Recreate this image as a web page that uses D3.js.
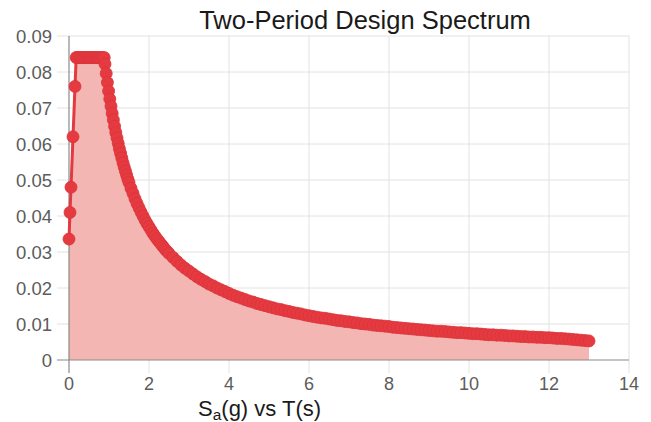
<!DOCTYPE html>
<html><head><meta charset="utf-8">
<script src="https://cdn.jsdelivr.net/npm/d3@7/dist/d3.min.js"></script>
<style>html,body{margin:0;padding:0;background:#fff;}svg{display:block;}</style>
</head><body>
<svg id="c" width="651" height="422"></svg>
<script>
const title = "Two-Period Design Spectrum";
const xTicks = [0, 2, 4, 6, 8, 10, 12, 14];
const yTicks = [0, 0.01, 0.02, 0.03, 0.04, 0.05, 0.06, 0.07, 0.08, 0.09];
const periodT = [0,0.025,0.05,0.1,0.15,0.18,
 0.2,0.24,0.28,0.32,0.36,0.4,0.44,0.48,0.52,0.56,0.6,0.64,0.68,0.72,0.76,0.8,0.84,0.88,
 0.9,0.93,0.96,0.99,1.02,1.05,1.08,1.11,1.14,1.17,1.2,1.23,1.26,1.29,1.32,1.35,1.38,1.41,1.44,1.47,1.5,
 1.55,1.6,1.65,1.7,1.75,1.8,1.85,1.9,1.95,2,2.05,2.1,2.15,2.2,2.25,2.3,2.35,2.4,2.45,2.5,
 2.6,2.7,2.8,2.9,3,3.1,3.2,3.3,3.4,3.5,3.6,3.7,3.8,3.9,4,
 4.1,4.2,4.3,4.4,4.5,4.6,4.7,4.8,4.9,5,5.1,5.2,5.3,5.4,5.5,5.6,5.7,5.8,5.9,6,
 6.1,6.2,6.3,6.4,6.5,6.6,6.7,6.8,6.9,7,7.1,7.2,7.3,7.4,7.5,7.6,7.7,7.8,7.9,8,
 8.1,8.2,8.3,8.4,8.5,8.6,8.7,8.8,8.9,9,9.1,9.2,9.3,9.4,9.5,9.6,9.7,9.8,9.9,10,
 10.1,10.2,10.3,10.4,10.5,10.6,10.7,10.8,10.9,11,11.1,11.2,11.3,11.4,11.5,11.6,11.7,11.8,11.9,12,
 12.1,12.2,12.3,12.4,12.5,12.6,12.7,12.8,12.9,13];
const spectralSa = [0.0336,0.041,0.048,0.062,0.076,0.084,
 0.084,0.084,0.084,0.084,0.084,0.084,0.084,0.084,0.084,0.084,0.084,0.084,0.084,0.084,0.084,0.084,0.084,0.084,
 0.0822,0.0796,0.0771,0.0747,0.0725,0.0705,0.0685,0.0667,0.0649,0.0632,0.0617,0.0602,0.0587,0.0574,0.0561,0.0548,0.0536,0.0525,0.0514,0.0503,0.0493,
 0.0477,0.0463,0.0448,0.0435,0.0423,0.0411,0.0400,0.0389,0.0379,0.0370,0.0361,0.0352,0.0344,0.0336,0.0329,0.0322,0.0315,0.0308,0.0302,0.0296,
 0.0285,0.0274,0.0264,0.0255,0.0247,0.0239,0.0231,0.0224,0.0218,0.0211,0.0206,0.0200,0.0195,0.0190,0.0185,
 0.0180,0.0176,0.0172,0.0168,0.0164,0.0161,0.0157,0.0154,0.0151,0.0148,0.0145,0.0142,0.0140,0.0137,0.0135,0.0132,0.0130,0.0128,0.0125,0.0123,
 0.0121,0.0119,0.0117,0.0116,0.0114,0.0112,0.0110,0.0109,0.0107,0.0106,0.0104,0.0103,0.0101,0.0100,0.0099,0.0097,0.0096,0.0095,0.0094,0.0093,
 0.0091,0.0090,0.0089,0.0088,0.0087,0.0086,0.0085,0.0084,0.0083,0.0082,0.0081,0.0080,0.0080,0.0079,0.0078,0.0077,0.0076,0.0076,0.0075,0.0074,
 0.0073,0.0073,0.0072,0.0071,0.0070,0.0070,0.0069,0.0069,0.0068,0.0067,0.0067,0.0066,0.0065,0.0065,0.0064,0.0064,0.0063,0.0063,0.0062,0.0062,
 0.0061,0.0060,0.0060,0.0059,0.0058,0.0057,0.0056,0.0055,0.0054,0.0053];

const data = periodT.map((t, i) => ({t, s: spectralSa[i]}));
const svg = d3.select("#c");
const m = {left: 69, right: 22, top: 36, bottom: 62};
const W = 651, H = 422;
const x = d3.scaleLinear().domain([0, 14]).range([m.left, W - m.right]);
const y = d3.scaleLinear().domain([0, 0.09]).range([H - m.bottom, m.top]);
const font = "'Liberation Sans', Arial, sans-serif";

// grid
svg.append("g").selectAll("line").data(yTicks.slice(1)).join("line")
  .attr("x1", m.left - 12).attr("x2", x(14)).attr("y1", d => y(d)).attr("y2", d => y(d))
  .attr("stroke", "#e2e2e2").attr("stroke-width", 1);
svg.append("g").selectAll("line").data(xTicks.slice(1)).join("line")
  .attr("x1", d => x(d)).attr("x2", d => x(d)).attr("y1", y(0.09)).attr("y2", y(0) + 13)
  .attr("stroke", "#e2e2e2").attr("stroke-width", 1);

// area
svg.append("path").datum(data)
  .attr("d", d3.area().x(d => x(d.t)).y0(y(0)).y1(d => y(d.s)))
  .attr("fill", "#f3b6b3");

// axes lines
svg.append("line").attr("x1", m.left - 12).attr("x2", x(14)).attr("y1", y(0)).attr("y2", y(0))
  .attr("stroke", "#8a8a8a").attr("stroke-width", 1.2);
svg.append("line").attr("x1", m.left).attr("x2", m.left).attr("y1", y(0.09)).attr("y2", y(0) + 13)
  .attr("stroke", "#8a8a8a").attr("stroke-width", 1.2);

// line + markers
svg.append("path").datum(data)
  .attr("d", d3.line().x(d => x(d.t)).y(d => y(d.s)))
  .attr("fill", "none").attr("stroke", "#e23a40").attr("stroke-width", 3);
svg.append("g").selectAll("circle").data(data).join("circle")
  .attr("cx", d => x(d.t)).attr("cy", d => y(d.s)).attr("r", 6)
  .attr("fill", "#e43a40").attr("stroke", "#dc343b").attr("stroke-width", 0.8);

// tick labels
svg.append("g").selectAll("text").data(yTicks).join("text")
  .attr("x", 52).attr("y", d => y(d)).attr("dy", "0.36em").attr("text-anchor", "end")
  .attr("font-family", font).attr("font-size", 18.5).attr("fill", "#5c5c5c")
  .text(d => d === 0 ? "0" : d3.format(".2f")(d));
svg.append("g").selectAll("text").data(xTicks).join("text")
  .attr("x", d => x(d)).attr("y", 390).attr("text-anchor", "middle")
  .attr("font-family", font).attr("font-size", 18).attr("fill", "#5c5c5c")
  .text(d => d);

// title
svg.append("text").attr("x", 365).attr("y", 29).attr("text-anchor", "middle")
  .attr("font-family", font).attr("font-size", 25.5).attr("fill", "#1a1a1a").text(title);

// x-axis title
const xt = svg.append("text").attr("x", 198).attr("y", 416)
  .attr("font-family", font).attr("font-size", 22).attr("fill", "#1a1a1a");
xt.append("tspan").text("S");
xt.append("tspan").attr("font-size", 15.5).attr("dy", 4).text("a");
xt.append("tspan").attr("dy", -4).text("(g) vs T(s)");
</script>
</body></html>
